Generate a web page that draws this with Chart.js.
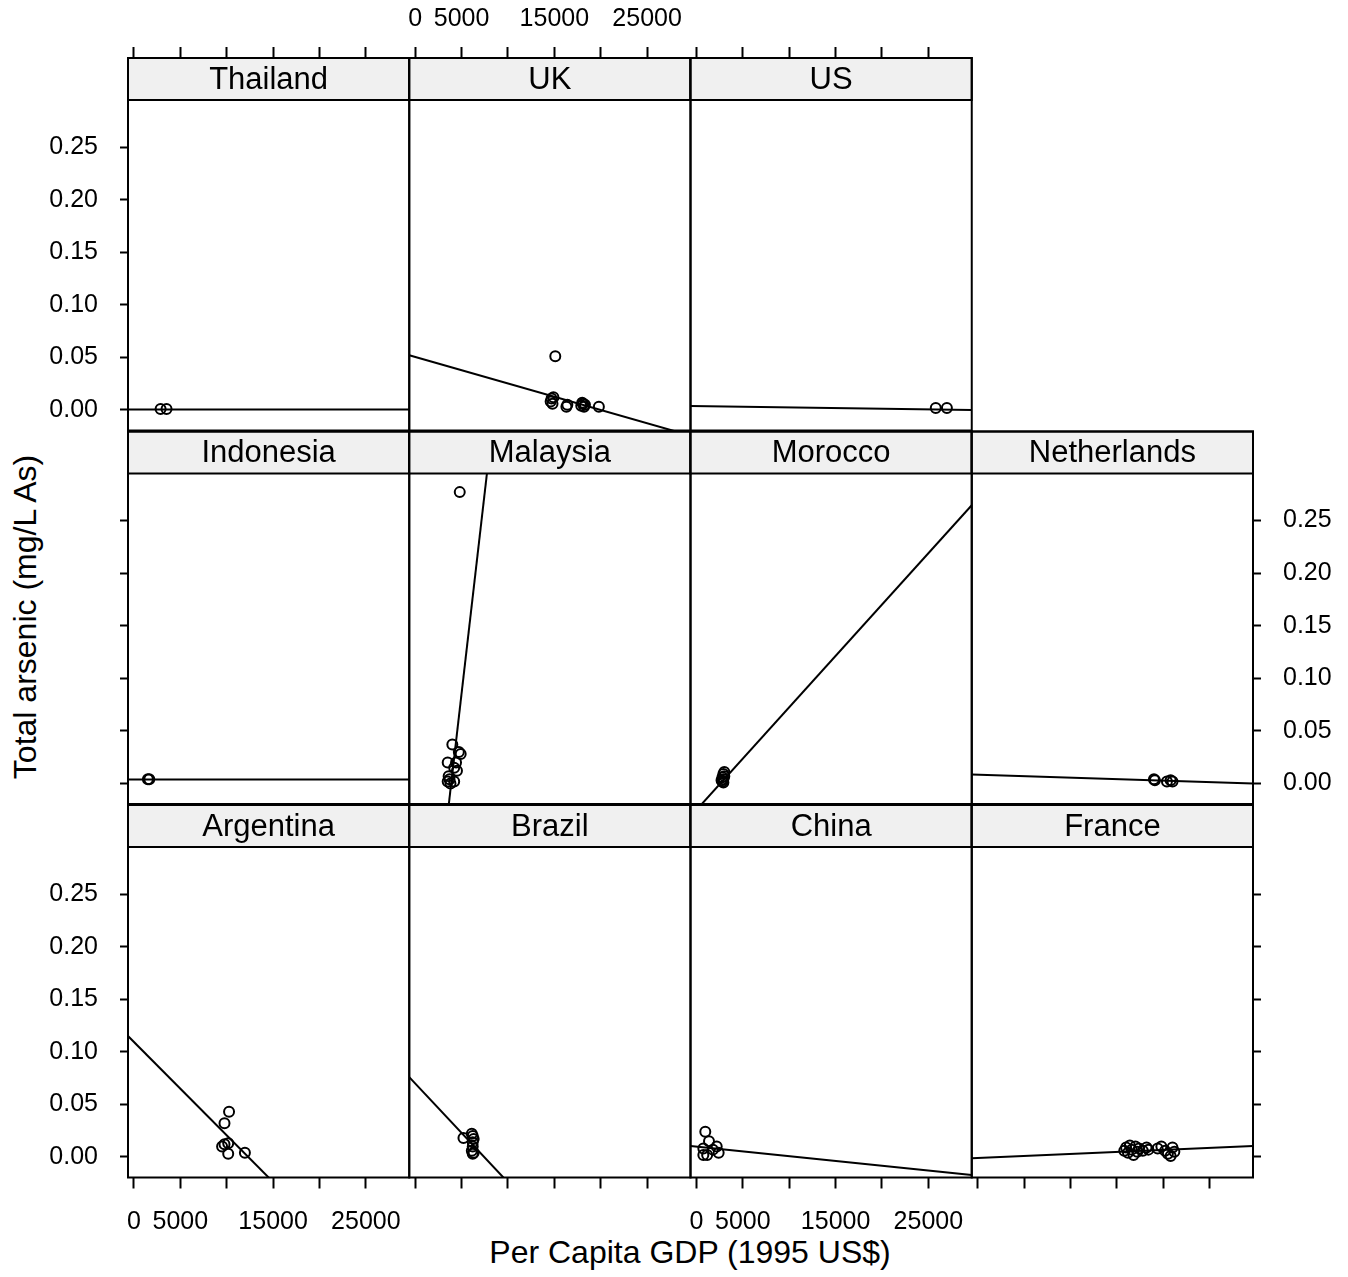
<!DOCTYPE html>
<html>
<head>
<meta charset="utf-8">
<script src="https://cdn.jsdelivr.net/npm/chart.js@4.4.0/dist/chart.umd.min.js"></script>
<style>
  body { margin: 0; background: #fff; }
  #wrap { position: relative; width: 1348px; height: 1277px; overflow: hidden; background: #fff; }
  #wrap canvas { position: absolute; left: 0; top: 0; }
  .axtitle { position: absolute; font-family: "Liberation Sans", Arial, sans-serif; font-size: 32px; color: #000; white-space: nowrap; transform: translate(-50%, -50%); }
  #ytitle { transform: translate(-50%, -50%) rotate(-90deg); }
</style>
</head>
<body>
<div id="wrap">
  <div class="axtitle" id="xtitle" style="left:690px; top:1252px;">Per Capita GDP (1995 US$)</div>
  <div class="axtitle" id="ytitle" style="left:25px; top:617px;">Total arsenic (mg/L As)</div>
</div>
<script>
// panel order as laid out by lattice (top row first)
var countries = ['Thailand', 'UK', 'US', 'Indonesia', 'Malaysia', 'Morocco', 'Netherlands', 'Argentina', 'Brazil', 'China', 'France'];
var panelRow = [0, 0, 0, 1, 1, 1, 1, 2, 2, 2, 2];
var panelCol = [0, 1, 2, 0, 1, 2, 3, 0, 1, 2, 3];

// per capita GDP (x) and total arsenic (y)
var gdpThailand = [2870, 3510];
var asThailand = [0.001, 0.001];
var gdpUK = [15100, 14600, 14700, 14800, 14900, 16300, 16400, 17900, 18000, 18100, 18200, 18300, 19800];
var asUK = [0.051, 0.008, 0.011, 0.006, 0.012, 0.003, 0.005, 0.004, 0.007, 0.006, 0.003, 0.005, 0.003];
var gdpUS = [25800, 27000];
var asUS = [0.002, 0.002];
var gdpIndonesia = [1500, 1650];
var asIndonesia = [0.004, 0.004];
var gdpMalaysia = [4800, 4000, 4900, 4700, 3500, 4400, 4200, 4500, 3600, 3500, 4200, 3800, 3700];
var asMalaysia = [0.277, 0.037, 0.028, 0.030, 0.020, 0.020, 0.015, 0.012, 0.007, 0.002, 0.002, 0.000, 0.004];
var gdpMorocco = [2700, 2800, 2900, 3000, 2800, 2900, 3000, 2900];
var asMorocco = [0.003, 0.006, 0.009, 0.011, 0.002, 0.004, 0.007, 0.001];
var gdpNetherlands = [19000, 19100, 20400, 20800, 21000];
var asNetherlands = [0.004, 0.003, 0.002, 0.003, 0.002];
var gdpArgentina = [10250, 9760, 9500, 9760, 10160, 10160, 11960];
var asArgentina = [0.043, 0.032, 0.010, 0.012, 0.013, 0.003, 0.004];
var gdpBrazil = [5200, 6100, 6200, 6300, 6200, 6200, 6100, 6300, 6200];
var asBrazil = [0.018, 0.022, 0.020, 0.017, 0.014, 0.010, 0.006, 0.004, 0.003];
var gdpChina = [950, 740, 1350, 2180, 2390, 1150, 1770, 740];
var asChina = [0.024, 0.008, 0.015, 0.010, 0.004, 0.002, 0.007, 0.002];
var gdpFrance = [15800, 16000, 16200, 16400, 16600, 16800, 17000, 17200, 17400, 17800, 18200, 18400, 19400, 19800, 20200, 20500, 20800, 21000, 21200];
var asFrance = [0.006, 0.009, 0.004, 0.011, 0.007, 0.002, 0.010, 0.005, 0.008, 0.006, 0.009, 0.007, 0.008, 0.010, 0.006, 0.003, 0.001, 0.009, 0.005];

// fitted line of each panel: intercept and slope
var lineIntercept = [0.0005, 0.0504, 0.0037, 0.0038, -0.2967, -0.0251, 0.0084, 0.1093, 0.0699, 0.0099, -0.001];
var lineSlope = [0, -2.52e-6, -1.25e-7, 0, 7.65e-5, 9.76e-6, -2.8e-7, -8.87e-6, -9.4e-6, -9.1e-7, 3.89e-7];

// axis ticks
var xTicks = [0, 5000, 10000, 15000, 20000, 25000];
var xTickLabels = ['0', '5000', '', '15000', '', '25000'];
var yTicks = [0, 0.05, 0.10, 0.15, 0.20, 0.25];
var yTickLabels = ['0.00', '0.05', '0.10', '0.15', '0.20', '0.25'];

var gdpByCountry = {
    Thailand: gdpThailand, UK: gdpUK, US: gdpUS, Indonesia: gdpIndonesia, Malaysia: gdpMalaysia,
    Morocco: gdpMorocco, Netherlands: gdpNetherlands, Argentina: gdpArgentina, Brazil: gdpBrazil,
    China: gdpChina, France: gdpFrance
};
var asByCountry = {
    Thailand: asThailand, UK: asUK, US: asUS, Indonesia: asIndonesia, Malaysia: asMalaysia,
    Morocco: asMorocco, Netherlands: asNetherlands, Argentina: asArgentina, Brazil: asBrazil,
    China: asChina, France: asFrance
};

// page geometry
var W = 1348, H = 1277;
var colLeft = [128, 409.25, 690.5, 971.75], panelW = 281.25;
var rowTop = [58, 431.5, 805], stripH = 42, panelH = 330.5;
var xMin = -645, xMax = 29680, yMin = -0.0195, yPanelMax = 0.2947;
// chart area also holds the strip, so stretch the y range over it
var yMax = yPanelMax + (yPanelMax - yMin) * stripH / panelH;
var tickFont = { family: '"Liberation Sans", Arial, sans-serif', size: 25 };

var panelFrame = {
    id: 'panelFrame',
    afterDatasetsDraw: function(chart, args, opts) {
        var a = chart.chartArea, ctx = chart.ctx;
        ctx.save();
        ctx.fillStyle = '#f0f0f0';
        ctx.fillRect(a.left, a.top, a.right - a.left, stripH);
        ctx.strokeStyle = '#000';
        ctx.lineWidth = 2;
        ctx.strokeRect(a.left, a.top, a.right - a.left, stripH);
        ctx.strokeRect(a.left, a.top, a.right - a.left, a.bottom - a.top);
        ctx.fillStyle = '#000';
        ctx.font = '31px "Liberation Sans", Arial, sans-serif';
        ctx.textAlign = 'center';
        ctx.textBaseline = 'middle';
        ctx.fillText(opts.label, (a.left + a.right) / 2, a.top + stripH / 2 + 1);
        ctx.restore();
    }
};

function xAxis(pos, show, labeled, size) {
    return {
        type: 'linear', position: pos, min: xMin, max: xMax, display: show,
        afterBuildTicks: function(s) { s.ticks = xTicks.map(function(v) { return { value: v }; }); },
        afterFit: function(s) { if (show) s.height = size; },
        grid: { drawOnChartArea: false, drawTicks: true, tickLength: 11, tickWidth: 2, tickColor: '#000' },
        border: { display: false },
        ticks: {
            color: '#000', font: tickFont, padding: pos === 'top' ? 13 : 19, maxRotation: 0, autoSkip: false,
            callback: function(v, i) { return labeled ? xTickLabels[i] : ''; }
        }
    };
}

function yAxis(pos, show, labeled, size) {
    return {
        type: 'linear', position: pos, min: yMin, max: yMax, display: show,
        afterBuildTicks: function(s) { s.ticks = yTicks.map(function(v) { return { value: v }; }); },
        afterFit: function(s) { if (show) s.width = size; },
        grid: { drawOnChartArea: false, drawTicks: true, tickLength: 8, tickWidth: 2, tickColor: '#000' },
        border: { display: false },
        ticks: {
            color: '#000', font: tickFont, padding: 22, autoSkip: false,
            callback: function(v, i) { return labeled ? yTickLabels[i] : ''; }
        }
    };
}

var wrap = document.getElementById('wrap');
countries.forEach(function(name, k) {
    var r = panelRow[k], c = panelCol[k];
    var hasTop = r === 0, hasBottom = r === 2;
    var hasLeft = c === 0, hasRight = c === 3;
    var left = colLeft[c], top = rowTop[r];
    var right = left + panelW, bottom = top + stripH + panelH;
    // axis boxes sized so their labels are not clipped
    var topH = top, bottomH = 75, leftW = 110, rightW = W - right - 2;

    var canvas = document.createElement('canvas');
    canvas.width = W;
    canvas.height = H;
    wrap.appendChild(canvas);

    var xs = gdpByCountry[name], ys = asByCountry[name];
    var pts = xs.map(function(x, i) { return { x: x, y: ys[i] }; });
    var fit = [xMin, xMax].map(function(x) { return { x: x, y: lineIntercept[k] + lineSlope[k] * x }; });

    new Chart(canvas.getContext('2d'), {
        type: 'scatter',
        data: {
            datasets: [{
                label: name,
                data: pts,
                pointStyle: 'circle',
                pointRadius: 5,
                borderColor: '#000',
                backgroundColor: 'rgba(0,0,0,0)',
                borderWidth: 2
            }, {
                label: name + ' fit',
                data: fit,
                showLine: true,
                pointRadius: 0,
                borderColor: '#000',
                borderWidth: 2,
                fill: false
            }]
        },
        options: {
            responsive: false,
            animation: false,
            events: [],
            layout: {
                padding: {
                    left: left - (hasLeft ? leftW : 0),
                    top: top - (hasTop ? topH : 0),
                    right: W - right - (hasRight ? rightW : 0),
                    bottom: H - bottom - (hasBottom ? bottomH : 0)
                }
            },
            plugins: {
                legend: { display: false },
                tooltip: { enabled: false },
                panelFrame: { label: name }
            },
            scales: {
                x: xAxis('bottom', hasBottom, c === 0 || c === 2, bottomH),
                x2: xAxis('top', hasTop, c === 1 || c === 3, topH),
                y: yAxis('left', hasLeft, r !== 1, leftW),
                y2: yAxis('right', hasRight, r === 1, rightW)
            }
        },
        plugins: [panelFrame]
    });
});
</script>
</body>
</html>
